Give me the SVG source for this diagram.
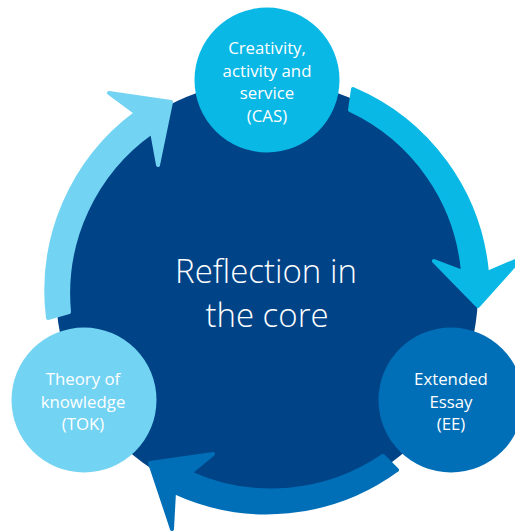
<svg xmlns="http://www.w3.org/2000/svg" width="515" height="531" viewBox="0 0 515 531">
<style>
.lbl{font-family:"Open Sans","Liberation Sans",sans-serif;font-size:16.8px;fill:#ffffff;text-anchor:middle}
.core{font-family:"Open Sans","Liberation Sans",sans-serif;font-weight:300;font-size:33px;fill:#ffffff;text-anchor:middle}
.arr{stroke-width:4;stroke-linejoin:round}
</style>
<rect width="515" height="531" fill="#ffffff"/>
<g id="core">
<circle cx="267" cy="292" r="211" fill="#004387"/>
<text class="core" x="266" y="283">Reflection in</text>
<text class="core" x="267" y="327">the core</text>
</g>
<g id="connectors">
<path class="arr" fill="#0AB8E6" stroke="#0AB8E6" d="M 353,89 A 221 221 0 0 1 487,273 L 520,259 L 478,306 L 434,261 L 463,272 A 198 198 0 0 0 350,110 Z"/>
<path class="arr" fill="#006FB7" stroke="#006FB7" d="M 397,470 A 221 221 0 0 1 174,492 L 172,529 L 150,463 L 213,454 L 190,473 A 198 198 0 0 0 383,456 Z"/>
<path class="arr" fill="#73D3F3" stroke="#73D3F3" d="M 48,318 A 221 221 0 0 1 136,113 L 109,93 L 171,102 L 158,165 L 152,132 A 198 198 0 0 0 69,312 Z"/>
</g>
<g id="cas">
<circle cx="267" cy="80" r="72.5" fill="#0AB8E6"/>
<text class="lbl" x="267" y="54">Creativity,</text>
<text class="lbl" x="267" y="76.5">activity and</text>
<text class="lbl" x="267" y="99">service</text>
<text class="lbl" x="267" y="121.5">(CAS)</text>
</g>
<g id="tok">
<circle cx="84" cy="400" r="72.5" fill="#73D3F3"/>
<text class="lbl" x="83" y="385">Theory of</text>
<text class="lbl" x="83" y="407.5">knowledge</text>
<text class="lbl" x="83" y="430">(TOK)</text>
</g>
<g id="ee">
<circle cx="451" cy="400" r="72.5" fill="#006FB7"/>
<text class="lbl" x="451" y="385">Extended</text>
<text class="lbl" x="451" y="407.5">Essay</text>
<text class="lbl" x="451" y="430">(EE)</text>
</g>
</svg>
